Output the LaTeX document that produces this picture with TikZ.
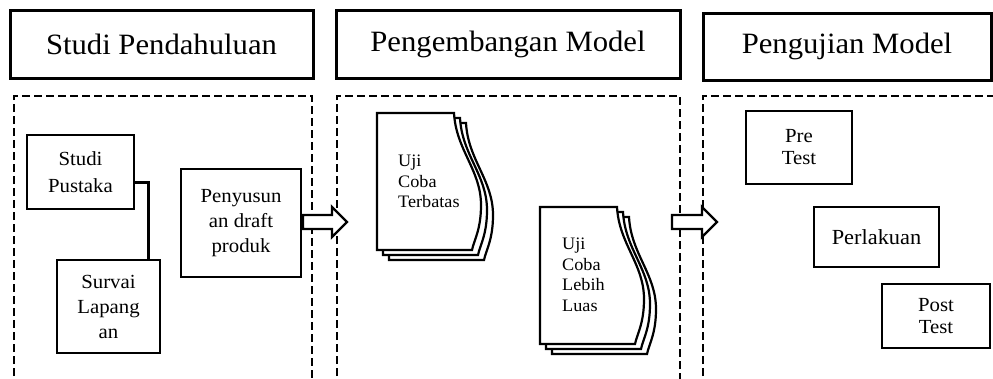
\documentclass[tikz,border=0pt]{standalone}
\usepackage{fontspec}
\setmainfont{Liberation Serif}[FakeStretch=1.04]
\begin{document}
\begin{tikzpicture}[x=1pt,y=-1pt,
  titlebox/.style={draw, line width=3pt, inner sep=0pt, font=\fontsize{29.5}{34}\selectfont},
  bodybox/.style={draw, line width=2.4pt, inner sep=0pt, align=center},
  doctext/.style={inner sep=0pt, align=left, anchor=north west, font=\fontsize{17.5}{20.5}\selectfont},
  phase/.style={dash pattern=on 8pt off 4pt, line width=2.2pt},
  blockarrow/.style={draw, fill=white, line width=2.4pt, line join=miter},
  docpage/.style={draw, fill=white, line width=2.2pt},
  linker/.style={line width=3pt}]
\useasboundingbox (0,0) rectangle (993,378);
\clip (0,0) rectangle (993,378);

% phase frames
\draw[phase] (14,400) -- (14,96) -- (312,96) -- (312,400);
\draw[phase] (337,400) -- (337,96) -- (680,96) -- (680,400);
\draw[phase] (703,400) -- (703,96) -- (1000,96);

% titles
\node[titlebox, minimum width=303pt, minimum height=68pt] (t1) at (161.5,44) {Studi Pendahuluan};
\node[titlebox, minimum width=344pt, minimum height=68pt] (t2) at (508,44) {Pengembangan Model};
\node[titlebox, minimum width=288pt, minimum height=67pt] (t3) at (847,46.5) {Pengujian Model};

% Studi Pendahuluan
\node[bodybox, minimum width=107pt, minimum height=74pt, font=\fontsize{20}{27}\selectfont] (sp) at (80.5,172) {Studi\\Pustaka};
\node[bodybox, minimum width=103pt, minimum height=93pt, font=\fontsize{20}{25}\selectfont] (sv) at (108.5,306.5) {Survai\\Lapang\\an};
\node[bodybox, minimum width=120pt, minimum height=108pt, font=\fontsize{20}{25}\selectfont] (pd) at (241,223) {Penyusun\\an draft\\produk};
\draw[linker] ([yshift=-10pt]sp.east) -| ([xshift=39.5pt]sv.north);

% Pengembangan Model: document stacks
\foreach \ox/\oy in {377/113, 540/207}{
  \foreach \dx/\dy in {12/10, 6/5, 0/0}{
    \draw[docpage, shift={(\ox+\dx,\oy+\dy)}] (0,0) -- (77,0)
      .. controls (79,37) and (104,57) .. (104,92)
      .. controls (104,117) and (97,127) .. (95,137) -- (0,137) -- cycle;
  }
}
\node[doctext] (d1) at (398,155) {Uji\\Coba\\Terbatas};
\node[doctext] (d2) at (562,238) {Uji\\Coba\\Lebih\\Luas};

% Pengujian Model
\node[bodybox, minimum width=106pt, minimum height=73pt, font=\fontsize{20}{22}\selectfont] (pre) at (799,147.5) {Pre\\Test};
\node[bodybox, minimum width=125pt, minimum height=60pt, font=\fontsize{21.5}{22}\selectfont] (per) at (876.5,237) {Perlakuan};
\node[bodybox, minimum width=108pt, minimum height=64pt, font=\fontsize{20}{22}\selectfont] (post) at (936,316) {Post\\Test};

% block arrows between phases
\draw[blockarrow] (303,215) -- (332,215) -- (332,207) -- (347,222) -- (332,237) -- (332,229) -- (303,229) -- cycle;
\draw[blockarrow] (672,215) -- (702,215) -- (702,207) -- (717,222) -- (702,237) -- (702,229) -- (672,229) -- cycle;
\end{tikzpicture}
\end{document}
